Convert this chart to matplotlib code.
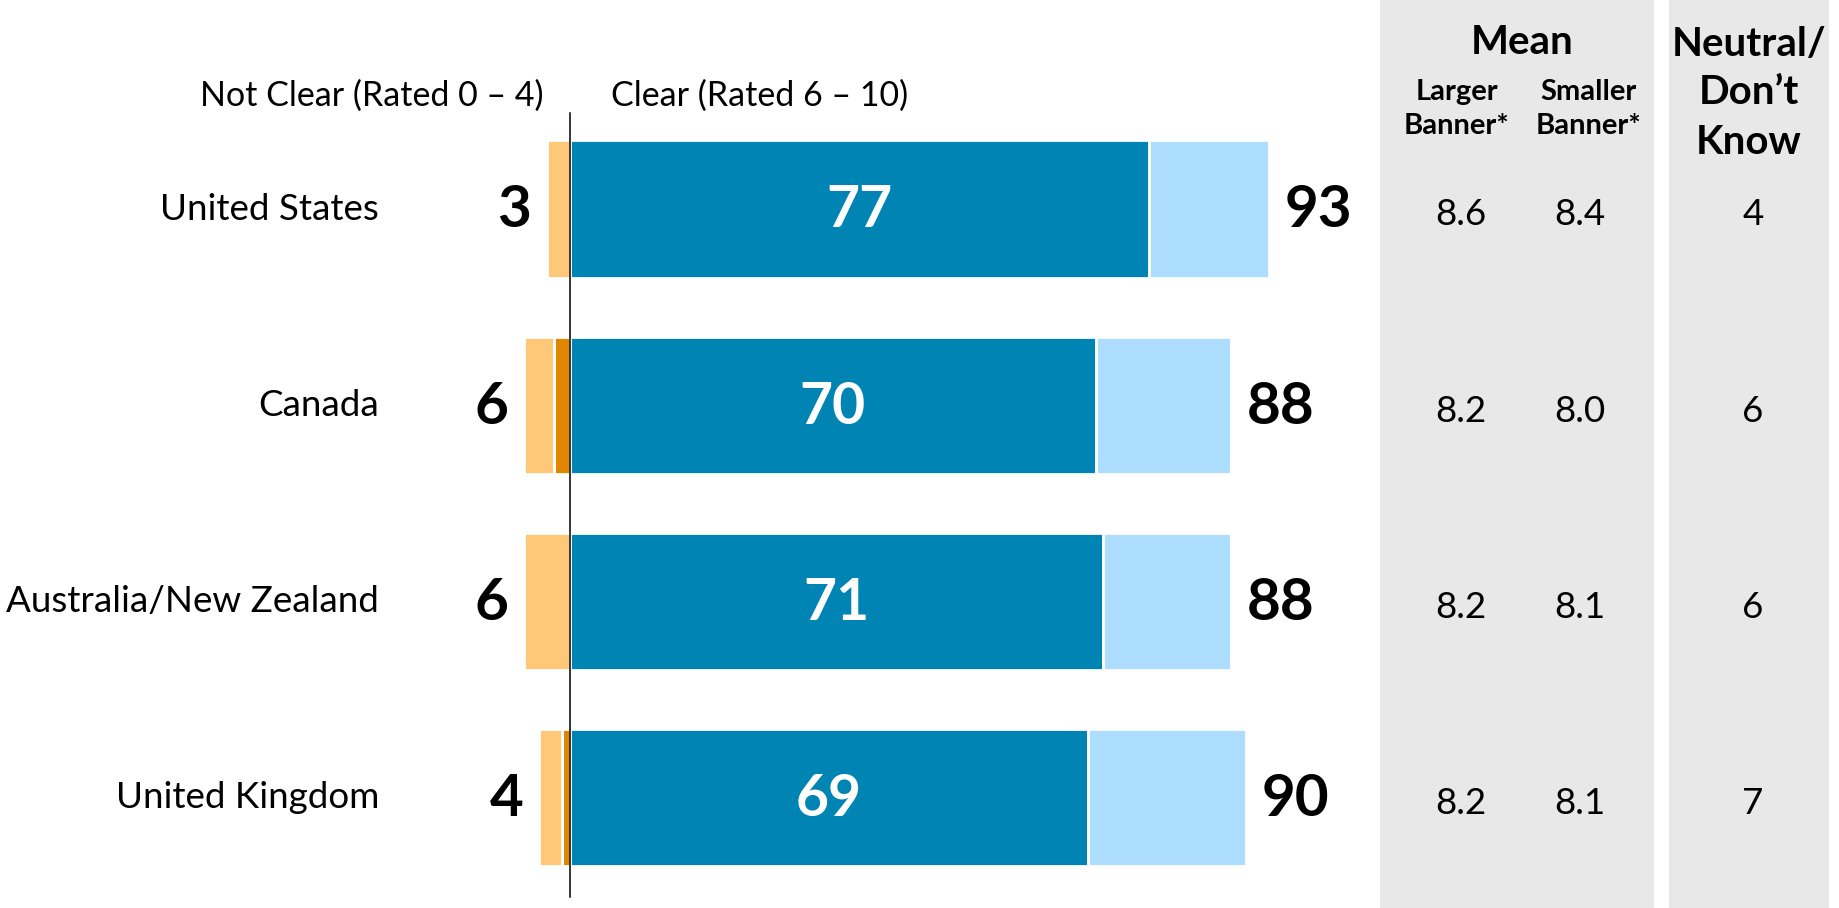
import matplotlib.pyplot as plt
import matplotlib.transforms as mtransforms
from matplotlib.patches import Rectangle
import numpy as np

plt.rcParams['font.family'] = ['Lato', 'DejaVu Sans']

# Data
countries = ["United States", "Canada", "Australia/New Zealand", "United Kingdom"]
not_clear_light = [3, 4, 6, 3]
not_clear_dark = [0, 2, 0, 1]
not_clear_total = [3, 6, 6, 4]
very_clear = [77, 70, 71, 69]
clear_total = [93, 88, 88, 90]
mean_larger = [8.6, 8.2, 8.2, 8.2]
mean_smaller = [8.4, 8.0, 8.1, 8.1]
neutral_dk = [4, 6, 6, 7]

DARK_BLUE = "#0084B4"
LIGHT_BLUE = "#ADDEFF"
LIGHT_ORANGE = "#FFC879"
DARK_ORANGE = "#E08600"
PANEL = "#E8E8E8"

W, H = 1839, 908


def fx(px):
    # pixel column -> axes fraction
    return px / W


def fy(py):
    # pixel row (from top) -> axes fraction
    return 1 - py / H


fig = plt.figure(figsize=(W / 100, H / 100), dpi=100)
ax = fig.add_axes([0, 0, 1, 1])
ax.set_xlim(-569.5 / 7.52, (W - 569.5) / 7.52)
ax.set_ylim((H - 209) / 196.17, -209 / 196.17)
ax.axis("off")

# grey panels behind the table columns
ax.add_patch(Rectangle((fx(1380), 0), fx(274), 1, transform=ax.transAxes,
                       facecolor=PANEL, edgecolor="none", zorder=0))
ax.add_patch(Rectangle((fx(1669), 0), fx(160), 1, transform=ax.transAxes,
                       facecolor=PANEL, edgecolor="none", zorder=0))

y = np.arange(len(countries))
very = np.array(very_clear)
total = np.array(clear_total)
light = np.array(not_clear_light)
dark = np.array(not_clear_dark)

h = 0.7
ax.barh(y, very, height=h, color=DARK_BLUE, edgecolor="white", linewidth=2, zorder=2)
ax.barh(y, total - very, left=very, height=h, color=LIGHT_BLUE, edgecolor="white",
        linewidth=2, zorder=2)
ax.barh(y, -dark, height=h, color=DARK_ORANGE, edgecolor="white", linewidth=2, zorder=2)
ax.barh(y, -light, left=-dark, height=h, color=LIGHT_ORANGE, edgecolor="white",
        linewidth=2, zorder=2)

ax.axvline(0, ymin=fy(897), ymax=fy(113), color="black", linewidth=1.1, zorder=3)

row_tr = mtransforms.blended_transform_factory(ax.transAxes, ax.transData)

for i in range(len(countries)):
    ax.text(fx(379), i, countries[i], transform=row_tr, ha="right", va="center",
            fontsize=26.5)
    ax.text(-not_clear_total[i] - 2.1, i + 0.01, str(not_clear_total[i]), ha="right",
            va="center", fontsize=42, fontweight="bold")
    ax.text(very_clear[i] / 2, i + 0.01, str(very_clear[i]), ha="center", va="center",
            fontsize=41, fontweight="bold", color="white", zorder=4)
    ax.text(clear_total[i] + 2.1, i + 0.01, str(clear_total[i]), ha="left",
            va="center", fontsize=42, fontweight="bold")
    ax.text(fx(1461), i + 0.03, f"{mean_larger[i]:.1f}", transform=row_tr,
            ha="center", va="center", fontsize=26.5)
    ax.text(fx(1580), i + 0.03, f"{mean_smaller[i]:.1f}", transform=row_tr,
            ha="center", va="center", fontsize=26.5)
    ax.text(fx(1753), i + 0.03, str(neutral_dk[i]), transform=row_tr,
            ha="center", va="center", fontsize=26.5)

# headers
ax.text(fx(543), fy(96), "Not Clear (Rated 0 \u2013 4)", transform=ax.transAxes,
        ha="right", va="center", fontsize=24.5)
ax.text(fx(611), fy(96), "Clear (Rated 6 \u2013 10)", transform=ax.transAxes,
        ha="left", va="center", fontsize=24.5)
ax.text(fx(1522), fy(42), "Mean", transform=ax.transAxes, ha="center", va="center",
        fontsize=29, fontweight="bold")
ax.text(fx(1457), fy(109), "Larger\nBanner*", transform=ax.transAxes, ha="center",
        va="center", fontsize=21, fontweight="bold", linespacing=1.42)
ax.text(fx(1588), fy(109), "Smaller\nBanner*", transform=ax.transAxes, ha="center",
        va="center", fontsize=21, fontweight="bold", linespacing=1.42)
ax.text(fx(1749), fy(93), "Neutral/\nDon\u2019t\nKnow", transform=ax.transAxes,
        ha="center", va="center", fontsize=29, fontweight="bold", linespacing=1.4)

fig.savefig("out.png", dpi=100)
